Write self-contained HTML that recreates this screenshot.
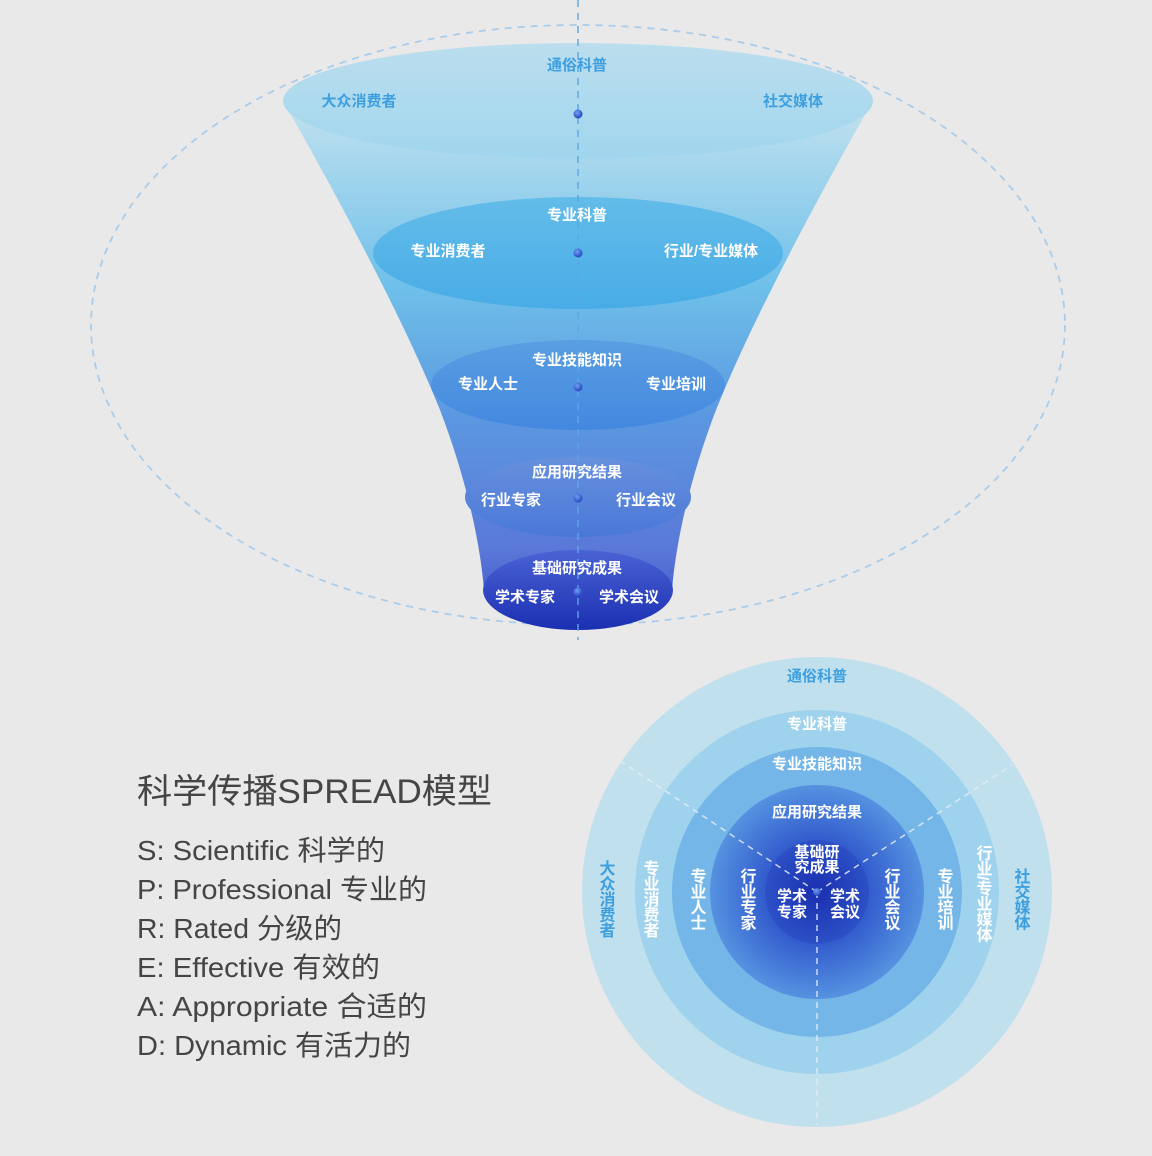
<!DOCTYPE html>
<html><head><meta charset="utf-8"><style>
html,body{margin:0;padding:0;background:#e9e9e9;}
#c{position:relative;width:1152px;height:1156px;overflow:hidden;font-family:"Liberation Sans","Noto Sans CJK SC",sans-serif;}
.v{position:absolute;writing-mode:vertical-rl;font-weight:bold;font-size:16px;line-height:17px;color:#fff;transform:translateX(-50%);letter-spacing:-0.5px;}
.b{color:#3d9fe0;}
</style></head><body><div id="c">
<svg width="1152" height="1156" style="position:absolute;left:0;top:0" font-family="Liberation Sans, Noto Sans CJK SC, sans-serif">
<defs>
<linearGradient id="fg" x1="0" y1="101" x2="0" y2="630" gradientUnits="userSpaceOnUse">
<stop offset="0" stop-color="#c3e2ef"/><stop offset="0.35" stop-color="#6fc0ea"/><stop offset="0.6" stop-color="#5b97e0"/><stop offset="0.85" stop-color="#5a78d8"/><stop offset="1" stop-color="#3550c8"/></linearGradient>
<linearGradient id="e1" x1="0" y1="0" x2="0" y2="1"><stop offset="0" stop-color="#bcdeee"/><stop offset="1" stop-color="#a0d6ee"/></linearGradient>
<linearGradient id="e2" x1="0" y1="0" x2="0" y2="1"><stop offset="0" stop-color="#63bce9"/><stop offset="1" stop-color="#48ace6"/></linearGradient>
<linearGradient id="e3" x1="0" y1="0" x2="0" y2="1"><stop offset="0" stop-color="#5a9ee2"/><stop offset="1" stop-color="#4388df"/></linearGradient>
<linearGradient id="e4" x1="0" y1="0" x2="0" y2="1"><stop offset="0" stop-color="#6790dc"/><stop offset="1" stop-color="#4a78d9"/></linearGradient>
<linearGradient id="e5" x1="0" y1="0" x2="0" y2="1"><stop offset="0" stop-color="#4a63d4"/><stop offset="1" stop-color="#1b2fb2"/></linearGradient>
<radialGradient id="r4" cx="817" cy="892" r="107" gradientUnits="userSpaceOnUse"><stop offset="0.45" stop-color="#3058cc"/><stop offset="1" stop-color="#5592e0"/></radialGradient>
<radialGradient id="r5" cx="817" cy="892" r="52" gradientUnits="userSpaceOnUse"><stop offset="0" stop-color="#1a2fb0"/><stop offset="1" stop-color="#2c50c6"/></radialGradient>
<radialGradient id="dot" cx="0.4" cy="0.35" r="0.7"><stop offset="0" stop-color="#6fa0f0"/><stop offset="1" stop-color="#1f3fc0"/></radialGradient>
</defs>
<ellipse cx="578" cy="325" rx="487" ry="300" fill="none" stroke="#a9cdea" stroke-width="1.8" stroke-dasharray="7 6"/>
<path d="M283 101 C320 165 400 310 440 410 C465 475 480 540 484 590 L672 590 C676 540 691 475 716 410 C756 310 836 165 873 101 Z" fill="url(#fg)"/>
<ellipse cx="578" cy="101" rx="295" ry="58" fill="url(#e1)"/>
<ellipse cx="578" cy="253" rx="205" ry="56" fill="url(#e2)"/>
<ellipse cx="578" cy="385" rx="147" ry="45" fill="url(#e3)"/>
<ellipse cx="578" cy="497" rx="113" ry="40" fill="url(#e4)"/>
<ellipse cx="578" cy="590" rx="95" ry="40" fill="url(#e5)"/>
<line x1="578" y1="0" x2="578" y2="640" stroke="#5aa8e6" stroke-width="2" stroke-dasharray="7 6" opacity="0.7"/>
<g fill="url(#dot)"><circle cx="578" cy="114" r="4.5"/><circle cx="578" cy="253" r="4.5"/><circle cx="578" cy="387" r="4.5"/><circle cx="578" cy="498" r="4.5"/><circle cx="578" cy="592" r="4.5"/></g>
<g font-size="15" font-weight="bold" text-anchor="middle" fill="#fff">
<text x="577" y="70" fill="#3d9fe0">通俗科普</text>
<text x="359" y="106" fill="#3d9fe0">大众消费者</text>
<text x="793" y="106" fill="#3d9fe0">社交媒体</text>
<text x="577" y="220">专业科普</text>
<text x="448" y="256">专业消费者</text>
<text x="711" y="256">行业/专业媒体</text>
<text x="577" y="365">专业技能知识</text>
<text x="488" y="389">专业人士</text>
<text x="676" y="389">专业培训</text>
<text x="577" y="477">应用研究结果</text>
<text x="511" y="505">行业专家</text>
<text x="646" y="505">行业会议</text>
<text x="577" y="573">基础研究成果</text>
<text x="525" y="602">学术专家</text>
<text x="629" y="602">学术会议</text>
</g>
<circle cx="817" cy="892" r="235" fill="#c0e0ed"/>
<circle cx="817" cy="892" r="182" fill="#9fd2ec"/>
<circle cx="817" cy="892" r="145" fill="#74b6e8"/>
<circle cx="817" cy="892" r="107" fill="url(#r4)"/>
<circle cx="817" cy="892" r="52" fill="url(#r5)"/>
<g stroke="#e6eef6" stroke-width="1.5" stroke-dasharray="6 5" opacity="0.85">
<line x1="817" y1="892" x2="622" y2="762"/>
<line x1="817" y1="892" x2="1012" y2="765"/>
<line x1="817" y1="892" x2="817" y2="1125"/>
</g>
<circle cx="817" cy="892" r="4" fill="url(#dot)"/>
<g font-size="15" font-weight="bold" text-anchor="middle" fill="#fff">
<text x="817" y="681" fill="#3d9fe0">通俗科普</text>
<text x="817" y="729">专业科普</text>
<text x="817" y="769">专业技能知识</text>
<text x="817" y="817">应用研究结果</text>
<text x="817" y="857">基础研</text>
<text x="817" y="872">究成果</text>
<text x="792" y="901">学术</text>
<text x="792" y="917">专家</text>
<text x="845" y="901">学术</text>
<text x="845" y="917">会议</text>
</g>
<g fill="#454545">
<text x="137" y="803" font-size="34" textLength="355" lengthAdjust="spacingAndGlyphs">科学传播SPREAD模型</text>
<g font-size="28">
<text x="137" y="860" textLength="248" lengthAdjust="spacingAndGlyphs">S: Scientific 科学的</text>
<text x="137" y="899" textLength="290" lengthAdjust="spacingAndGlyphs">P: Professional 专业的</text>
<text x="137" y="938" textLength="205" lengthAdjust="spacingAndGlyphs">R: Rated 分级的</text>
<text x="137" y="977" textLength="243" lengthAdjust="spacingAndGlyphs">E: Effective 有效的</text>
<text x="137" y="1016" textLength="290" lengthAdjust="spacingAndGlyphs">A: Appropriate 合适的</text>
<text x="137" y="1055" textLength="274" lengthAdjust="spacingAndGlyphs">D: Dynamic 有活力的</text>
</g></g>
</svg>
<div class="v b" style="left:605px;top:860px">大众消费者</div>
<div class="v" style="left:649px;top:860px">专业消费者</div>
<div class="v" style="left:696px;top:868px">专业人士</div>
<div class="v" style="left:746px;top:868px">行业专家</div>
<div class="v" style="left:890px;top:868px">行业会议</div>
<div class="v" style="left:943px;top:868px">专业培训</div>
<div class="v" style="left:982px;top:845px">行业/专业媒体</div>
<div class="v b" style="left:1020px;top:868px">社交媒体</div>
</div></body></html>
